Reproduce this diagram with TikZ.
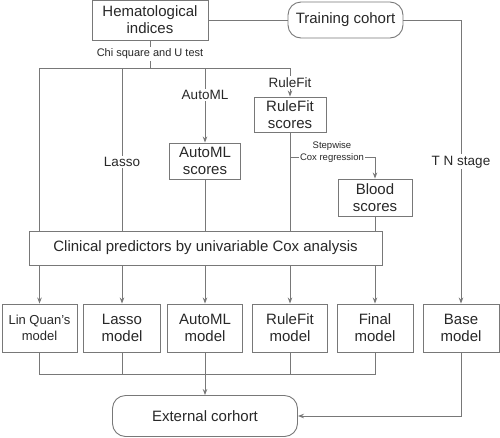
\documentclass[tikz,border=0pt]{standalone}
\usepackage{fontspec}
\setmainfont{Liberation Sans}
\usetikzlibrary{arrows.meta}
\definecolor{linegray}{RGB}{120,120,120}
\definecolor{textgray}{RGB}{40,40,40}

\begin{document}
\begin{tikzpicture}[x=1pt, y=-1pt,
box/.style={draw=linegray, fill=white, line width=0.9pt, align=center,
inner sep=1pt, text=textgray, font=\fontsize{15}{17}\selectfont},
roundbox/.style={box, rounded corners=13pt},
model/.style={box, minimum width=76pt, minimum height=48pt},
lbl/.style={fill=white, inner sep=1.5pt, text=textgray,
font=\fontsize{13.5}{15}\selectfont},
line/.style={draw=linegray, line width=0.9pt},
arr/.style={line, -{Stealth[length=6pt, width=4.5pt]}}]
\useasboundingbox (0,0) rectangle (500,437);

\node[box, minimum width=116pt, minimum height=40pt] (hema) at (150,20)
{Hematological\\indices};
\node[roundbox, minimum width=115pt, minimum height=36pt] (train)
at (345.5,20) {Training cohort};
\node[box, minimum width=72pt, minimum height=35pt] (rfs) at (290,114.5)
{RuleFit\\scores};
\node[box, minimum width=71pt, minimum height=36pt] (ams) at (205,161)
{AutoML\\scores};
\node[box, minimum width=74pt, minimum height=37pt] (bs) at (375,197.5)
{Blood\\scores};
\node[box, minimum width=353pt, minimum height=34pt] (clin) at (205.5,248)
{Clinical predictors by univariable Cox analysis};

% models
\node[model, minimum width=75pt, font=\fontsize{13}{16}\selectfont] (lqm)
at (39.5,328) {Lin Quan{\char"27}s\\model};
\node[model, minimum width=77pt] (lm) at (122,328) {Lasso\\model};
\node[model, minimum width=75pt] (amm) at (205,328) {AutoML\\model};
\node[model, minimum width=75pt] (rfm) at (290,328) {RuleFit\\model};
\node[model] (fm) at (375,328) {Final\\model};
\node[model] (bm) at (461,328) {Base\\model};
\node[roundbox, minimum width=185pt, minimum height=41pt] (ext) at (205,416)
{External corhort};

\coordinate (split) at (150,68);
\coordinate (sw) at (290,157);
\coordinate (join) at (205,374);

% top part
\draw[line] (hema) -- (train);
\draw[arr] (train) -| node[lbl, pos=0.75] {T N stage} (bm);
\draw[line] (hema) -- (split);
\node[lbl, font=\fontsize{11}{13}\selectfont] (chi) at (150,54)
{Chi square and U test};
\draw[line] (split) -| (clin.north -| lqm);
\draw[line] (split) -| node[lbl, pos=0.79] {Lasso} (clin.north -| lm);
\draw[arr] (split) -| node[lbl, pos=0.68] {AutoML} (ams);
\draw[arr] (split) -| node[lbl, pos=0.76] {RuleFit} (rfs);
\draw[line] (ams) -- (clin.north -| ams);
\draw[line] (rfs) -- (clin.north -| rfs);
\draw[line] (bs) -- (clin.north -| bs);
\draw[arr] (sw) -| node[lbl, pos=0.247, yshift=5pt, inner sep=1pt,
align=center, font=\fontsize{9.5}{12}\selectfont]
{Stepwise\\Cox regression} (bs);

% down to the models
\foreach \m in {lqm,lm,amm,rfm,fm}
\draw[arr] (clin.south -| \m) -- (\m);

% bottom part
\draw[line] (lqm) |- (join -| fm) -- (fm);
\draw[line] (lm) -- (lm |- join);
\draw[line] (rfm) -- (rfm |- join);
\draw[arr] (amm) -- (ext);
\draw[arr] (bm) |- (ext);
\end{tikzpicture}
\end{document}
